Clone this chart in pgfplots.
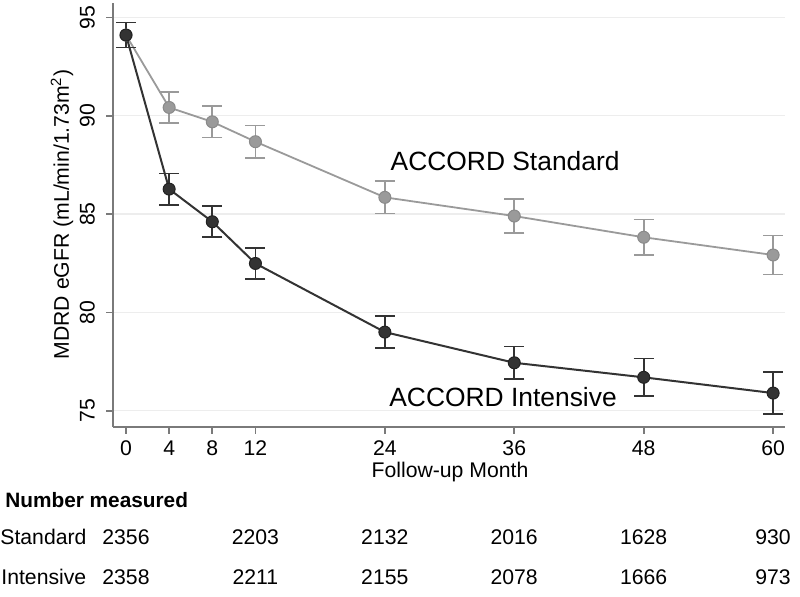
\documentclass[border=0pt]{standalone}
\usepackage{fontspec}
\setmainfont{Liberation Sans}
\usepackage{pgfplots}
\pgfplotsset{compat=1.18}
\definecolor{stdc}{HTML}{9A9A9A}
\definecolor{stde}{HTML}{8A8A8A}
\definecolor{intc}{HTML}{333333}
\definecolor{inte}{HTML}{222222}
\definecolor{axc}{HTML}{7A7A7A}
\begin{document}
\begin{tikzpicture}
\useasboundingbox (0,0) rectangle (400pt,-298pt);
\begin{axis}[
  at={(56.5pt,-213.35pt)}, anchor=south west,
  scale only axis, width=336pt, height=211.85pt,
  xmin=-1.206, xmax=61.1, ymin=74.19, ymax=95.73,
  axis x line*=bottom, axis y line*=left,
  axis line style={axc, line width=1pt, -},
  xtick={0,4,8,12,24,36,48,60},
  ytick={75,80,85,90,95},
  tick align=outside, major tick length=3.5pt,
  tick style={axc, line width=0.8pt},
  ymajorgrids, major grid style={black!7, line width=0.6pt},
  ticklabel style={font=\fontsize{10.6}{12}\selectfont},
  /pgf/number format/assume math mode=true,
  yticklabel style={rotate=90, anchor=south},
  yticklabel shift=2pt,
  clip=false,
]
\addplot[stdc, line width=0.9pt, mark=*, mark size=3pt,
  mark options={fill=stdc, draw=stde, line width=0.5pt},
  error bars/.cd, y dir=both, y explicit,
  error bar style={stdc, line width=0.8pt},
  error mark options={rotate=90, mark size=5pt, line width=0.8pt, stdc}]
  coordinates {
  (0,94.1) +- (0,0.63)
  (4,90.42) +- (0,0.8)
  (8,89.69) +- (0,0.8)
  (12,88.68) +- (0,0.82)
  (24,85.85) +- (0,0.82)
  (36,84.9) +- (0,0.87)
  (48,83.82) +- (0,0.91)
  (60,82.92) +- (0,1.0)
  };
\addplot[intc, line width=1pt, mark=*, mark size=3pt,
  mark options={fill=intc, draw=inte, line width=0.5pt},
  error bars/.cd, y dir=both, y explicit,
  error bar style={intc, line width=0.8pt},
  error mark options={rotate=90, mark size=5pt, line width=0.8pt, intc}]
  coordinates {
  (0,94.1) +- (0,0.63)
  (4,86.27) +- (0,0.8)
  (8,84.61) +- (0,0.79)
  (12,82.49) +- (0,0.8)
  (24,79.0) +- (0,0.82)
  (36,77.44) +- (0,0.83)
  (48,76.7) +- (0,0.95)
  (60,75.9) +- (0,1.07)
  };
\node[font=\fontsize{13.2}{15}\selectfont] at (axis cs:35.15,87.69) {ACCORD Standard};
\node[font=\fontsize{13.2}{15}\selectfont] at (axis cs:34.96,75.70) {ACCORD Intensive};
\end{axis}
\begin{scope}[x=0.5pt,y=-0.5pt, font=\fontsize{10.6}{12}\selectfont]
\node[rotate=90] at (62,214.5) {MDRD eGFR (mL/min/1.73m\textsuperscript{2})};
\node at (450,472) {Follow-up Month};
\node[anchor=west, inner sep=0pt, font=\fontsize{10.4}{12}\selectfont\bfseries] at (5,500) {Number measured};
\node[anchor=west, inner sep=0pt] at (0,537) {Standard};
\node[anchor=west, inner sep=0pt] at (1,577) {Intensive};
\node at (126,537) {2356};
\node at (255.4,537) {2203};
\node at (384.8,537) {2132};
\node at (514.2,537) {2016};
\node at (643.6,537) {1628};
\node at (773,537) {930};
\node at (126,577) {2358};
\node at (255.4,577) {2211};
\node at (384.8,577) {2155};
\node at (514.2,577) {2078};
\node at (643.6,577) {1666};
\node at (773,577) {973};
\end{scope}
\end{tikzpicture}
\end{document}
